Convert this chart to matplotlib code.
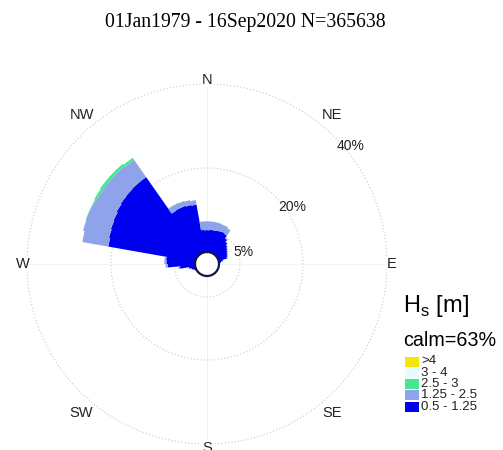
import numpy as np
import matplotlib.pyplot as plt
from matplotlib.patches import Rectangle

plt.rcParams['font.family'] = ['Liberation Sans', 'DejaVu Sans']

title = '01Jan1979 - 16Sep2020 N=365638'
calm_pct = 63

# 5-degree direction bins (centre, degrees clockwise from north)
dir_centers = [242.5, 247.5, 252.5, 257.5, 262.5, 267.5, 272.5, 277.5,
               282.5, 287.5, 292.5, 297.5, 302.5, 307.5, 312.5, 317.5, 322.5,
               327.5, 332.5, 337.5, 342.5, 347.5,
               352.5, 357.5, 2.5, 7.5, 12.5, 17.5, 22.5, 27.5, 32.5,
               37.5, 42.5, 47.5, 52.5, 57.5, 62.5, 67.5, 72.5, 77.5, 82.5, 87.5]
bin_width = 5

# frequency (%) per Hs class in each bin
hs_050_125 = [0.3, 0.6, 1.0, 1.5, 3.6, 6.5, 6.8, 6.9,
              21.0, 21.3, 21.5, 21.7, 22.0, 22.2, 22.3, 22.4, 22.4,
              11.8, 11.9, 11.9, 11.7, 11.5,
              5.3, 5.2, 5.2, 5.3, 5.3, 5.4, 5.5, 5.6, 5.4,
              4.6, 4.0, 3.5, 3.1, 2.8, 2.5, 2.3, 2.1, 1.0, 0.5, 0.2]
hs_125_250 = [0.0, 0.0, 0.0, 0.1, 0.4, 0.5, 0.5, 0.4,
              6.3, 6.4, 6.3, 6.0, 5.5, 5.4, 5.3, 5.2, 5.0,
              1.4, 1.3, 1.2, 1.2, 1.1,
              2.0, 2.1, 2.1, 2.0, 2.0, 1.9, 1.7, 1.6, 1.5,
              0.2, 0.1, 0.1, 0.1, 0.1, 0.2, 0.2, 0.1, 0.0, 0.0, 0.0]
hs_250_300 = [0.0, 0.0, 0.0, 0.0, 0.0, 0.0, 0.0, 0.0,
              0.0, 0.0, 0.1, 0.2, 0.6, 0.7, 0.7, 0.7, 0.6,
              0.05, 0.0, 0.0, 0.0, 0.0,
              0.0, 0.0, 0.0, 0.0, 0.0, 0.0, 0.0, 0.0, 0.0,
              0.0, 0.0, 0.0, 0.0, 0.0, 0.0, 0.0, 0.0, 0.0, 0.0, 0.0]
hs_300_400 = [0.0] * len(dir_centers)
hs_over_4 = [0.0] * len(dir_centers)

classes = [hs_050_125, hs_125_250, hs_250_300, hs_300_400, hs_over_4]
class_labels = ['0.5 - 1.25', '1.25 - 2.5', '2.5 - 3', '3 - 4', '>4']
class_colors = ['#0000f0', '#8fa3ea', '#48e690', '#e8fbfb', '#f5e50a']

rings = [5, 20, 40]
ring_labels = ['5%', '20%', '40%']
compass = ['N', 'NE', 'E', 'SE', 'S', 'SW', 'W', 'NW']

fig = plt.figure(figsize=(5.03, 4.5), dpi=100)
ax = fig.add_axes([27 / 503, 6 / 450, 360 / 503, 360 / 450], projection='polar')
ax.set_theta_zero_location('N')
ax.set_theta_direction(-1)
ax.set_rorigin(-2.857)
ax.set_ylim(0, 40)
ax.axis('off')

th = np.linspace(0, 2 * np.pi, 500)
# faint axes and dotted rings
for a in [0, 90, 180, 270]:
    ax.plot([np.radians(a)] * 2, [0, 40], color='#f1f1f1', lw=0.6, zorder=1)
for r in rings:
    ax.plot(th, np.full_like(th, r), color='#c8c8c8', lw=0.8,
            ls=(0, (1, 2)), zorder=1, clip_on=False)

# stacked rose: one outline per Hs class, built from the binned values
centers = np.array([c if c >= 240 else c + 360 for c in dir_centers])
lo_edges = np.radians(centers - bin_width / 2)
hi_edges = np.radians(centers + bin_width / 2)


def step_curve(vals):
    t_out, r_out = [], []
    for lo, hi, v in zip(lo_edges, hi_edges, vals):
        seg = np.linspace(lo, hi, 8)
        t_out.extend(seg)
        r_out.extend([v] * len(seg))
    return np.array(t_out), np.array(r_out)


lower = np.zeros(len(dir_centers))
for vals, col in zip(classes, class_colors):
    vals = np.array(vals)
    if vals.sum() == 0:
        continue
    upper = lower + vals
    tu, ru = step_curve(upper)
    tl, rl = step_curve(lower)
    ax.fill(np.concatenate([tu, tl[::-1]]), np.concatenate([ru, rl[::-1]]),
            facecolor=col, edgecolor='none', lw=0, zorder=2)
    lower = upper

# calm circle
ax.plot(th, np.zeros_like(th), color='#14144a', lw=1.6, zorder=3, clip_on=False)

# ring labels
ring_pos = [(71.6, 6.2), (56.3, 21.6), (50.5, 41.3)]
for (ang, r), lab in zip(ring_pos, ring_labels):
    ax.text(np.radians(ang), r, lab, fontsize=10, ha='center', va='center',
            color='#222222', zorder=4)

# compass labels
for i, lab in enumerate(compass):
    if i % 2 == 0:
        ang, r = i * 45, 41.0
    else:
        ang, r = i * 45 + (-5 if i in (1, 5) else 5), 43.6
    ax.text(np.radians(ang), r, lab, fontsize=10.5, ha='center', va='center',
            color='#222222', zorder=4,
            bbox=dict(facecolor='white', edgecolor='none', pad=0.5))

fig.text(245 / 503, 1 - 23 / 450, title, fontsize=14.2, ha='center', va='center',
         family=['Liberation Serif', 'DejaVu Serif'])

# legend
fig.text(403 / 503, 1 - 306 / 450, 'H$_\\mathregular{s}$ [m]', fontsize=17,
         ha='left', va='center')
fig.text(403 / 503, 1 - 340 / 450, f'calm={calm_pct}%', fontsize=14.2,
         ha='left', va='center')
for i, (lab, col) in enumerate(zip(class_labels[::-1], class_colors[::-1])):
    yc = 361.5 + i * 11.3
    fig.add_artist(Rectangle((405 / 503, 1 - (yc + 5) / 450), 14 / 503, 10 / 450,
                             transform=fig.transFigure, facecolor=col,
                             edgecolor='none'))
    fig.text(421 / 503, 1 - yc / 450, lab, fontsize=9.5, ha='left', va='center',
             color='#222222')

fig.savefig('out.png', dpi=100, facecolor='white')
